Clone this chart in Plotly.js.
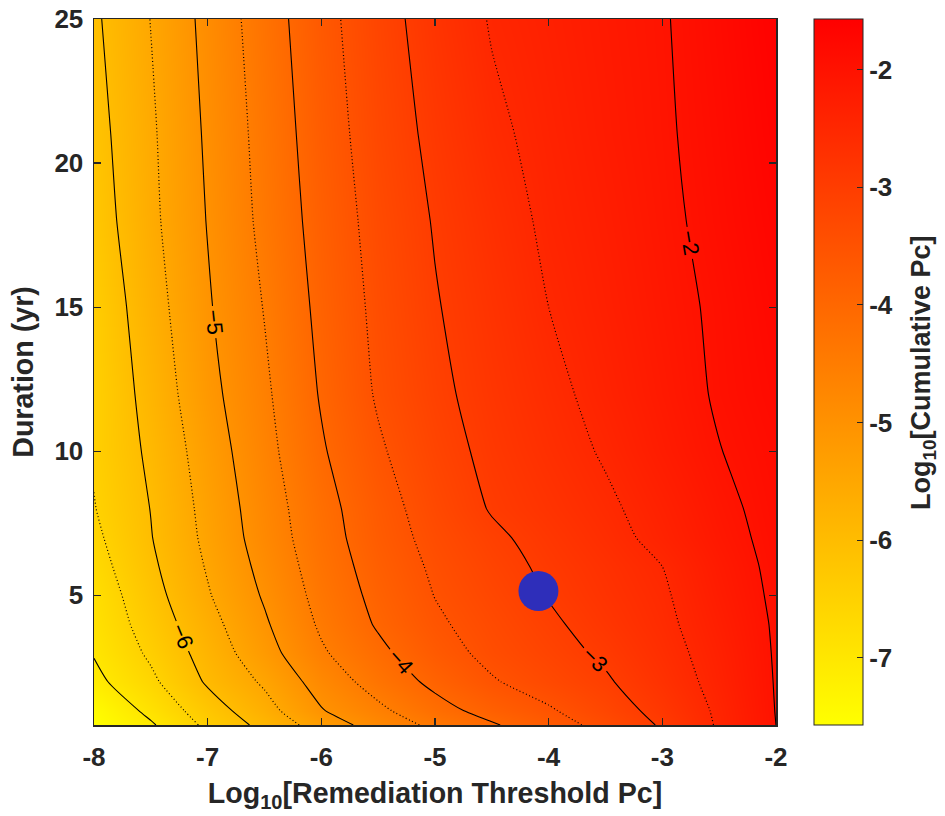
<!DOCTYPE html>
<html>
<head>
<meta charset="utf-8">
<script src="https://cdn.plot.ly/plotly-3.0.1.min.js"></script>
<style>
  html, body { margin: 0; padding: 0; background: #ffffff; }
  #chart { width: 945px; height: 816px; }
</style>
</head>
<body>
<div id="chart"></div>
<script>
// Log10 remediation threshold (x grid)
const thresholds = [-8, -7.5, -7, -6.5, -6, -5.5, -5, -4.5, -4, -3.5, -3, -2.5, -2];
// Duration in years (y grid)
const durations = [0.5, 1, 2, 3, 4, 5, 6, 7, 8, 10, 12, 15, 18, 21, 25];
// Log10 cumulative Pc, one row per duration
const cumPcRows = [
  [-7.57, -7.06, -6.39, -5.86, -5.27, -4.79, -4.39, -4.05, -3.71, -3.35, -2.95, -2.45, -2.00],
  [-7.48, -6.87, -6.24, -5.68, -5.03, -4.60, -4.17, -3.83, -3.55, -3.22, -2.86, -2.43, -1.99],
  [-7.13, -6.60, -5.94, -5.43, -4.79, -4.30, -3.89, -3.54, -3.29, -3.05, -2.73, -2.37, -1.98],
  [-6.97, -6.42, -5.80, -5.19, -4.56, -4.11, -3.69, -3.38, -3.16, -2.93, -2.65, -2.33, -1.97],
  [-6.87, -6.29, -5.67, -5.06, -4.43, -3.95, -3.57, -3.31, -3.07, -2.83, -2.59, -2.28, -1.96],
  [-6.81, -6.18, -5.54, -4.95, -4.34, -3.87, -3.49, -3.23, -2.98, -2.76, -2.55, -2.23, -1.94],
  [-6.70, -6.09, -5.46, -4.86, -4.27, -3.80, -3.43, -3.16, -2.92, -2.71, -2.50, -2.19, -1.92],
  [-6.60, -6.02, -5.39, -4.78, -4.21, -3.73, -3.36, -3.08, -2.85, -2.63, -2.39, -2.13, -1.90],
  [-6.52, -5.99, -5.35, -4.74, -4.17, -3.69, -3.29, -2.97, -2.77, -2.57, -2.34, -2.09, -1.88],
  [-6.45, -5.91, -5.26, -4.65, -4.05, -3.56, -3.18, -2.89, -2.67, -2.46, -2.23, -2.01, -1.85],
  [-6.46, -5.82, -5.15, -4.58, -3.96, -3.45, -3.10, -2.83, -2.60, -2.38, -2.17, -1.96, -1.80],
  [-6.39, -5.71, -5.05, -4.48, -3.88, -3.39, -3.03, -2.76, -2.50, -2.31, -2.12, -1.94, -1.75],
  [-6.26, -5.61, -4.98, -4.38, -3.81, -3.33, -2.97, -2.68, -2.43, -2.26, -2.08, -1.89, -1.70],
  [-6.18, -5.57, -4.93, -4.33, -3.74, -3.26, -2.89, -2.58, -2.38, -2.21, -2.05, -1.86, -1.65],
  [-6.08, -5.49, -4.86, -4.25, -3.66, -3.19, -2.79, -2.47, -2.32, -2.17, -2.03, -1.82, -1.60]
];
// Selected operating point
const pointX = [-4.09];
const pointY = [5.15];

const xTicks = [-8, -7, -6, -5, -4, -3, -2];
const xTickText = ['-8', '-7', '-6', '-5', '-4', '-3', '-2'];
const yTicks = [5, 10, 15, 20, 25];
const yTickText = ['5', '10', '15', '20', '25'];
const cbTicks = [-7, -6, -5, -4, -3, -2];
const cbTickText = ['-7', '-6', '-5', '-4', '-3', '-2'];

const textColor = '#262626';
const fontFam = '"Liberation Sans", Arial, Helvetica, sans-serif';
const tickFont = {family: fontFam, size: 26, color: textColor, weight: 'bold'};
const titleFont = {family: fontFam, size: 28.6, color: textColor, weight: 'bold'};
const cbTitleFont = {family: fontFam, size: 27, color: textColor, weight: 'bold'};

const traces = [
  {
    type: 'heatmap',
    x: thresholds, y: durations, z: cumPcRows,
    zsmooth: 'best',
    zmin: -7.57, zmax: -1.57,
    colorscale: [[0, 'rgb(255,255,0)'], [1, 'rgb(255,0,0)']],
    hoverinfo: 'skip',
    colorbar: {
      x: 1.0557, xanchor: 'left', xpad: 0,
      y: 0.5, yanchor: 'middle', ypad: 0,
      len: 1, lenmode: 'fraction',
      thickness: 49, thicknessmode: 'pixels',
      outlinewidth: 1, outlinecolor: textColor,
      ticks: 'inside', ticklen: 6, tickcolor: textColor,
      tickvals: cbTicks, ticktext: cbTickText,
      tickfont: tickFont,
      title: {text: ''}
    }
  },
  {
    type: 'contour',
    x: thresholds, y: durations, z: cumPcRows,
    autocontour: false,
    contours: {start: -6.5, end: -2.5, size: 1, coloring: 'none', showlabels: false},
    line: {color: '#000000', width: 1.2, dash: '1px,2.5px', smoothing: 0.6},
    showscale: false, hoverinfo: 'skip'
  },
  {
    type: 'contour',
    x: thresholds, y: durations, z: cumPcRows,
    autocontour: false,
    contours: {start: -7, end: -2, size: 1, coloring: 'none', showlabels: true,
               labelformat: '.0f',
               labelfont: {family: fontFam, size: 22, color: '#000000'}},
    line: {color: '#000000', width: 1.1, smoothing: 0.6},
    showscale: false, hoverinfo: 'skip'
  },
  {
    type: 'scatter', mode: 'markers',
    x: pointX, y: pointY,
    marker: {size: 40, color: 'rgb(46,46,186)', line: {width: 0}},
    hoverinfo: 'skip', showlegend: false
  }
];

const axisCommon = {
  showgrid: false, zeroline: false,
  showline: true, linecolor: textColor, linewidth: 1.5, mirror: 'ticks',
  ticks: 'inside', ticklen: 7, tickcolor: textColor, tickwidth: 1.2,
  tickfont: tickFont
};

const layout = {
  width: 945, height: 816,
  margin: {l: 94, r: 169, t: 19, b: 91},
  paper_bgcolor: '#ffffff', plot_bgcolor: '#ffffff',
  showlegend: false,
  font: {family: fontFam, color: textColor},
  xaxis: Object.assign({}, axisCommon, {
    range: [-8, -2], tickmode: 'array', tickvals: xTicks, ticktext: xTickText,
    ticklabelstandoff: 8,
    title: {text: 'Log<sub>10</sub>[Remediation Threshold Pc]', standoff: 12, font: titleFont}
  }),
  yaxis: Object.assign({}, axisCommon, {
    range: [0.5, 25], tickmode: 'array', tickvals: yTicks, ticktext: yTickText,
    ticklabelstandoff: 4,
    title: {text: 'Duration (yr)', standoff: 12, font: titleFont}
  }),
  annotations: [{
    text: 'Log<sub>10</sub>[Cumulative Pc]',
    xref: 'paper', yref: 'paper', x: 1.2155, y: 0.5,
    xanchor: 'center', yanchor: 'middle', textangle: -90,
    showarrow: false, font: cbTitleFont
  }]
};

Plotly.newPlot('chart', traces, layout, {displayModeBar: false, staticPlot: true});
</script>
</body>
</html>
